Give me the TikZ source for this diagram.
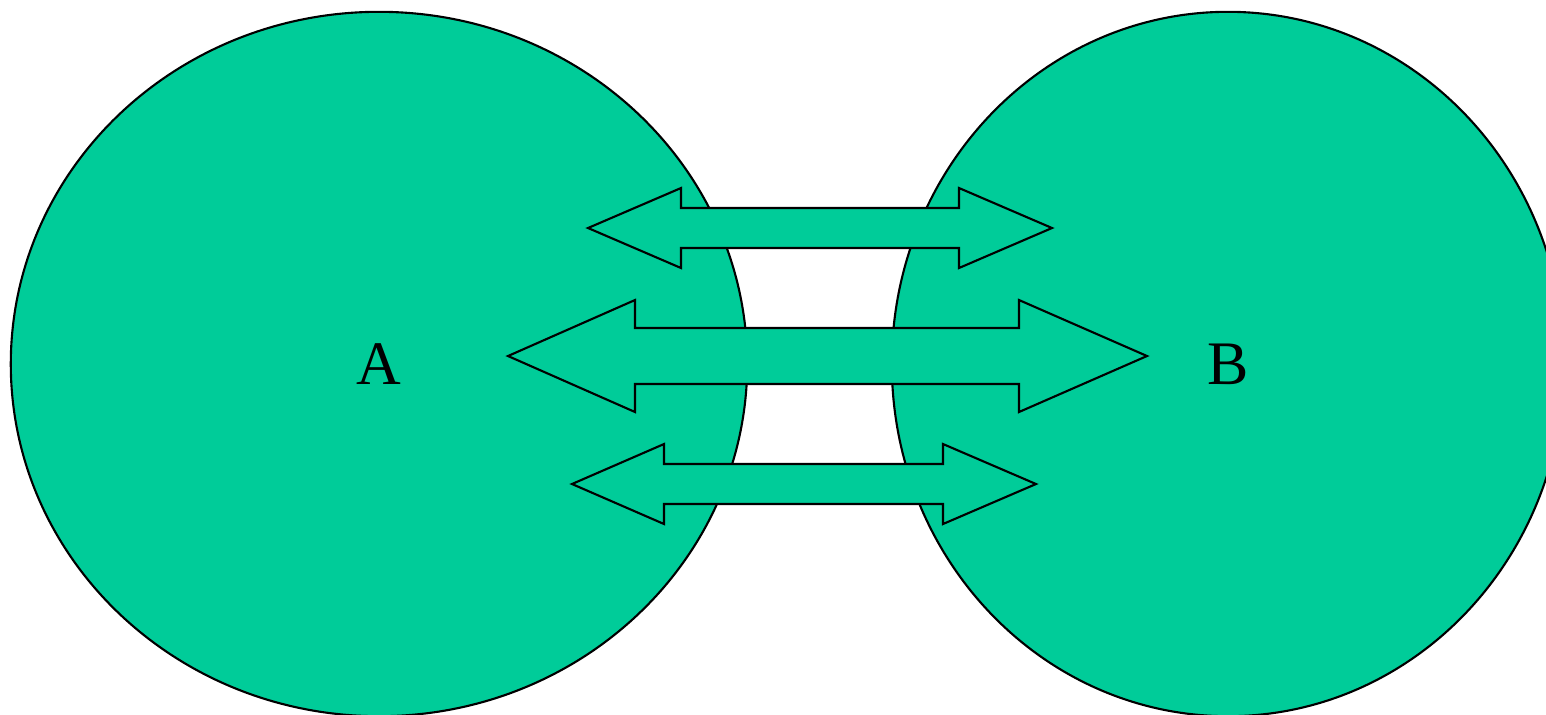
\documentclass[tikz,border=0pt]{standalone}
\usepackage{fontspec}
\setmainfont{Liberation Serif}
\usetikzlibrary{shapes.geometric}
\definecolor{cjverde}{HTML}{00CC99}
\tikzset{
  cjconjunto/.style={ellipse, draw=black, fill=cjverde, line width=0.6pt, inner sep=0pt,
                  font=\fontsize{17.6}{20}\selectfont},
  cjseta/.style={draw=black, fill=cjverde, line width=0.6pt, line join=miter},
}
\begin{document}
\begin{tikzpicture}[x=0.01cm, y=-0.01cm]
        \useasboundingbox (0,0) rectangle (1546,714);
        % ---------------- conjuntos ----------------
        \node[cjconjunto, minimum width=7.36cm, minimum height=7.04cm] (A) at (379,364) {A};
        \node[cjconjunto, minimum width=6.72cm, minimum height=7.04cm] (B) at (1228,364) {B};
        % ---------------- setas duplas ----------------
        \foreach \yc/\hs/\hh/\xl/\xa/\xb/\xr in {228/20/40/588/681/959/1052, 356/28/56/508/635/1019/1147, 484/20/40/572/664/943/1036} {
          \draw[cjseta] (\xl,\yc) -- (\xa,\yc-\hh) -- (\xa,\yc-\hs) -- (\xb,\yc-\hs) -- (\xb,\yc-\hh)
            -- (\xr,\yc) -- (\xb,\yc+\hh) -- (\xb,\yc+\hs) -- (\xa,\yc+\hs) -- (\xa,\yc+\hh) -- cycle;
        }
    \end{tikzpicture}
\end{document}
